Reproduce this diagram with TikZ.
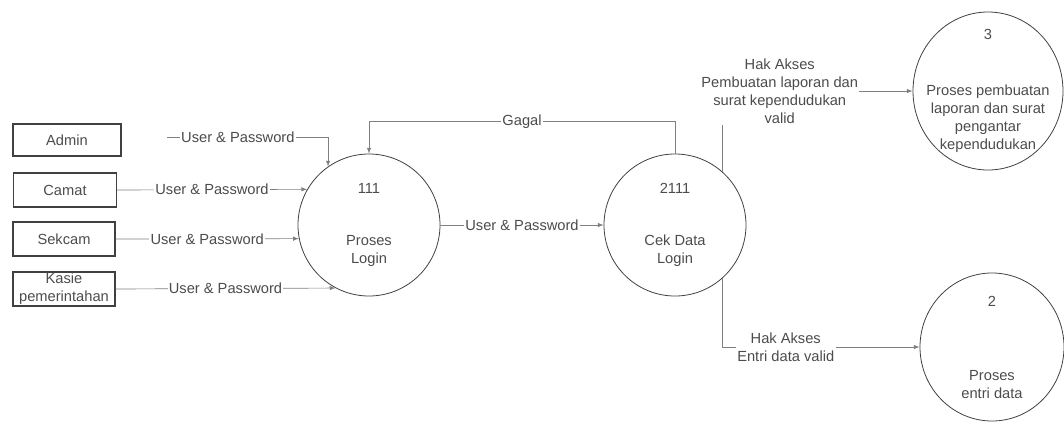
\documentclass[tikz,border=0pt]{standalone}
\usepackage{fontspec}
\setmainfont{Liberation Sans}
\usepackage{tikz}
\usetikzlibrary{shapes.geometric}
\definecolor{linegray}{rgb}{0.5,0.5,0.5}
\definecolor{shapegray}{rgb}{0.25,0.25,0.25}
\definecolor{textgray}{rgb}{0.3,0.3,0.3}

\begin{document}
\begin{tikzpicture}[x=0.75pt,y=-0.75pt,->,>=latex,draw=linegray,line width=0.5pt,
		every node/.style = {font=\fontsize{11}{13.5}\selectfont,text=textgray},
		entitynode/.style = {rectangle,draw=shapegray,line width=0.8pt,align=center,inner sep=0.5pt,minimum width=76.5pt,minimum height=25.5pt},
		processnode/.style = {ellipse,draw=shapegray,line width=0.6pt,inner sep=0pt,minimum width=106.5pt,minimum height=106.5pt},
		flowlabel/.style = {fill=white,inner sep=1pt,align=center}]
		\useasboundingbox (0,0) rectangle (1064,422);
		\node [entitynode,minimum width=81pt,minimum height=24pt] (admin) at (67,140) {Admin};
		\node [entitynode,minimum width=77pt] (camat) at (65,190) {Camat};
		\node [entitynode] (sekcam) at (64,239) {Sekcam};
		\node [entitynode] (kasie) at (64,289) {Kasie\\pemerintahan};
		\node [processnode,label={[align=center]center:{111\\[26pt]Proses\\Login}}] (login) at (369,225) {};
		\node [processnode,label={[align=center]center:{2111\\[26pt]Cek Data\\Login}}] (cek) at (675,225) {};
		\node [processnode,minimum width=112.5pt,minimum height=118.5pt,
			label={[align=center]center:{3\\[28pt]Proses pembuatan\\laporan dan surat\\pengantar\\kependudukan}}] (laporan) at (988,91) {};
		\node [processnode,minimum width=108pt,minimum height=111pt,
			label={[align=center]center:{2\\[42pt]Proses\\entri data}}] (entri) at (992,347) {};
		\coordinate (adminout) at (167,137);
		% aliran ke proses login
		\draw (adminout) -- node[flowlabel,pos=0.44] {User \& Password} (adminout -| login.125) -- (login.125);
		\draw (camat.east) -- node[flowlabel] {User \& Password} (login.150);
		\draw (sekcam.east) -- node[flowlabel] {User \& Password} (login.191);
		\draw (kasie.east) -- node[flowlabel] {User \& Password} (login.242);
		\draw (login.east) -- node[flowlabel] {User \& Password} (cek.west);
		\draw (cek.north) -- ++(0,-32) -| node[flowlabel,pos=0.25] {Gagal} (login.north);
		% hak akses
		\draw (cek.48) |- node[flowlabel,pos=0.65] {Hak Akses\\Pembuatan laporan dan\\surat kependudukan\\valid} (laporan.west);
		\draw (cek.-48) |- node[flowlabel,pos=0.66] {Hak Akses\\Entri data valid} (entri.west);
\end{tikzpicture}
\end{document}
